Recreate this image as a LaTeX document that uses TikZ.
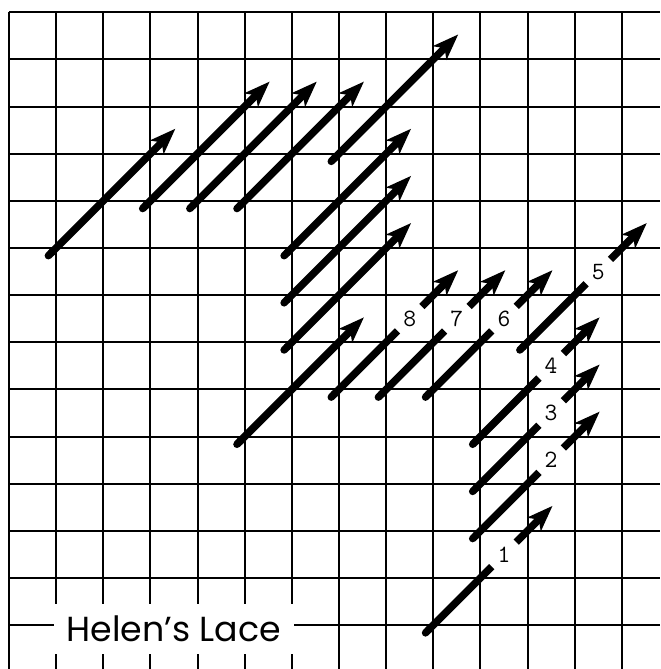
\documentclass[tikz,border=0pt]{standalone}
\usepackage{fontspec}
\newfontfamily\titlefont{Poppins}
\usetikzlibrary{arrows.meta}

\begin{document}
\begin{tikzpicture}[x=1cm, y=1cm,
  gridline/.style={line width=1.2pt},
  stitch/.style={line width=4.5pt, {Round Cap}-{Stealth[length=0.55cm, width=0.4cm, inset=0.14cm]}},
  lowhalf/.style={line width=4.5pt, {Round Cap}-},
  tophalf/.style={line width=4.5pt, -{Stealth[length=0.55cm, width=0.4cm, inset=0.14cm]}},
  num/.style={circle, inner sep=0pt, minimum size=0.72cm, font=\fontsize{15}{15}\selectfont\ttfamily},
  title/.style={fill=white, inner sep=0pt, minimum width=5.1cm, minimum height=1.05cm,
                font=\fontsize{21}{21}\selectfont\titlefont}]
  \useasboundingbox (-0.19,-0.93) rectangle (13.81,13.26);
  % canvas grid
  \foreach \x in {0,...,13}
    \draw[gridline] (\x,-0.93) -- (\x,13);
  \foreach \y in {0,...,13}
    \draw[gridline] (0,\y) -- (13.81,\y);
  \node[title] (name) at (3.5,-0.08) {Helen’s Lace};
  % plain stitches
  \foreach \a/\b in {1/8, 3/9, 4/9, 5/9, 7/10, 6/8, 6/7, 6/6, 5/4}
    \draw[stitch] (\a-0.22,\b-0.22) -- (\a+2.53,\b+2.53);
  % numbered stitches
  \foreach \n/\a/\b in {1/9/0, 2/10/2, 3/10/3, 4/10/4, 5/11/6, 6/9/5, 7/8/5, 8/7/5} {
    \node[num] (n\n) at (\a+1.5,\b+1.5) {\n};
    \draw[lowhalf] (\a-0.22,\b-0.22) -- (n\n);
    \draw[tophalf] (n\n) -- (\a+2.53,\b+2.53);
  }
\end{tikzpicture}
\end{document}
